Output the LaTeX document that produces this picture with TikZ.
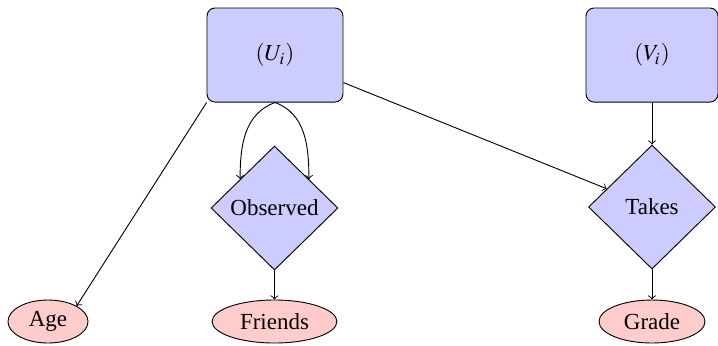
\documentclass[tikz,border=0pt]{standalone}
\usepackage{mathptmx}
\usepackage{fontspec}
\setmainfont{Liberation Serif}
\usetikzlibrary{shapes.geometric}

\definecolor{latentfill}{HTML}{CCCCFF}
\definecolor{obsfill}{HTML}{FFCCCC}

\begin{document}
\begin{tikzpicture}[x=0.4348pt, y=-0.4348pt,
  latent/.style={draw, fill=latentfill, rounded corners=3.5pt, inner sep=0pt,
                 minimum height=40.9pt},
  relation/.style={draw, fill=latentfill, diamond, inner sep=0pt,
                   minimum width=55.2pt, minimum height=53.9pt},
  attr/.style={draw, fill=obsfill, ellipse, inner sep=0pt, minimum height=18.7pt},
  link/.style={->}]
  \useasboundingbox (0,0) rectangle (718,345);

  % entity boxes
  \node[latent, minimum width=59.1pt] (U) at (275,55) {$(U_i)$};
  \node[latent, minimum width=57.4pt] (V) at (652,55) {$(V_i)$};

  % relations
  \node[relation] (Obs) at (274.5,208) {Observed};
  \node[relation] (Takes) at (652,207) {Takes};

  % attributes
  \node[attr, minimum width=34.8pt] (Age) at (48,321.5) {Age};
  \node[attr, minimum width=54.3pt] (Friends) at (274.5,321.5) {Friends};
  \node[attr, minimum width=46.1pt] (Grade) at (652,321.5) {Grade};

  % connectors
  \draw[link] (U.south west) -- (Age.north east);
  \draw[link] (U.south) to[out=-160, in=90] (Obs.140);
  \draw[link] (U.south) to[out=-20, in=90] (Obs.40);
  \draw[link] (U) -- (Takes);
  \draw[link] (V) -- (Takes);
  \draw[link] (Obs) -- (Friends);
  \draw[link] (Takes) -- (Grade);
\end{tikzpicture}
\end{document}
